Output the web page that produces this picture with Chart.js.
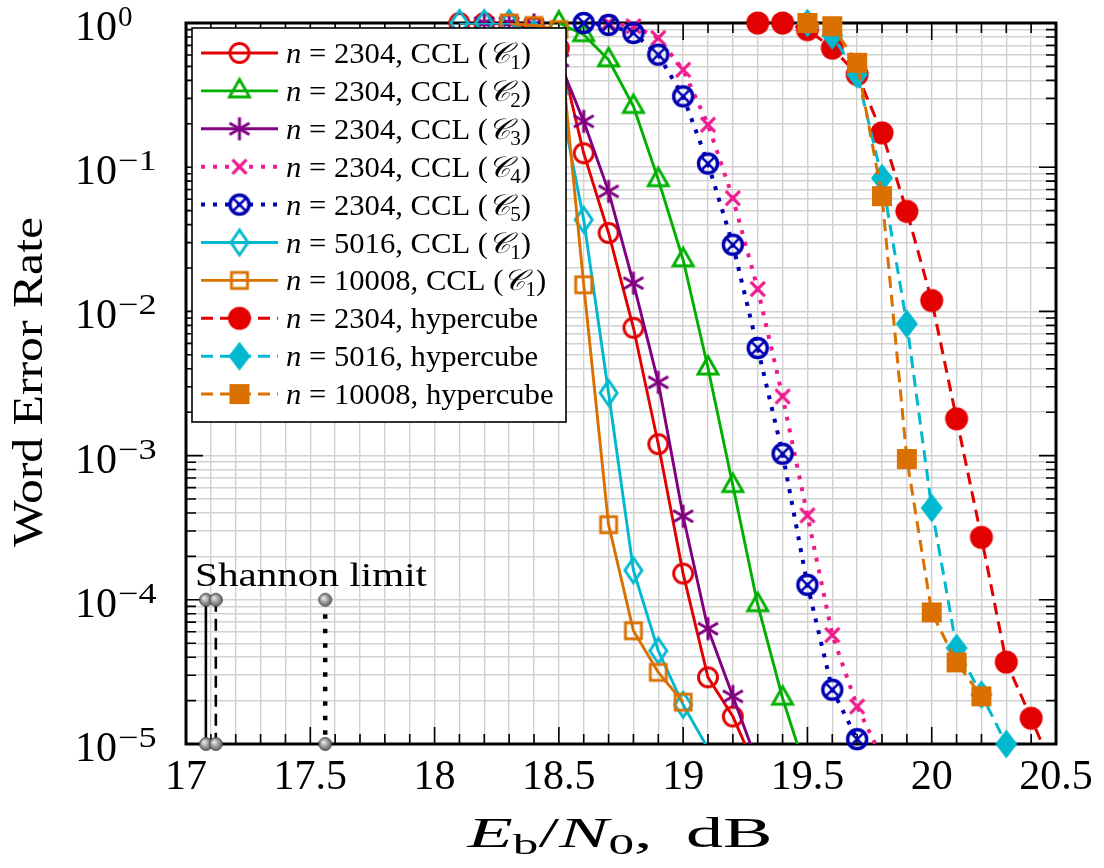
<!DOCTYPE html>
<html>
<head>
<meta charset="utf-8">
<script src="https://cdn.jsdelivr.net/npm/chart.js@4"></script>
<style>
  html, body { margin: 0; padding: 0; background: #fff; }
  canvas { display: block; }
</style>
</head>
<body>
<canvas id="werChart" width="1104" height="868"></canvas>
<script>
// values: Eb/N0 in dB, word error rate
const snrCcl1N2304 = [18.1, 18.2, 18.3, 18.4, 18.5, 18.6, 18.7, 18.8, 18.9, 19.0, 19.1, 19.2, 19.3];
const werCcl1N2304 = [1, 1, 0.98, 0.93, 0.67, 0.125, 0.035, 0.0077, 0.0012, 1.52e-4, 2.9e-5, 1.55e-5, 6.3e-6];

const snrCcl2N2304 = [18.5, 18.6, 18.7, 18.8, 18.9, 19.0, 19.1, 19.2, 19.3, 19.4, 19.5];
const werCcl2N2304 = [1, 0.83, 0.556, 0.264, 0.082, 0.0228, 0.00405, 6.2e-4, 9.25e-5, 2.08e-5, 6e-6];

const snrCcl3N2304 = [18.2, 18.3, 18.4, 18.5, 18.6, 18.7, 18.8, 18.9, 19.0, 19.1, 19.2, 19.3];
const werCcl3N2304 = [1, 1, 0.97, 0.55, 0.208, 0.068, 0.0157, 0.00322, 3.8e-4, 6.3e-5, 2.14e-5, 7.3e-6];

const snrCcl4N2304 = [18.7, 18.8, 18.9, 19.0, 19.1, 19.2, 19.3, 19.4, 19.5, 19.6, 19.7, 19.8];
const werCcl4N2304 = [1, 0.95, 0.787, 0.474, 0.197, 0.061, 0.0143, 0.00257, 3.85e-4, 5.7e-5, 1.82e-5, 8e-6];

const snrCcl5N2304 = [18.6, 18.7, 18.8, 18.9, 19.0, 19.1, 19.2, 19.3, 19.4, 19.5, 19.6, 19.7];
const werCcl5N2304 = [1, 0.97, 0.853, 0.603, 0.31, 0.106, 0.029, 0.00557, 0.00103, 1.27e-4, 2.38e-5, 1.08e-5];

const snrCcl1N5016 = [18.1, 18.2, 18.3, 18.4, 18.5, 18.6, 18.7, 18.8, 18.9, 19.0, 19.1];
const werCcl1N5016 = [1, 1, 1, 0.85, 0.33, 0.0432, 0.00272, 1.6e-4, 4.43e-5, 1.87e-5, 9.3e-6];

const snrCcl1N10008 = [18.3, 18.4, 18.5, 18.6, 18.7, 18.8, 18.9, 19.0];
const werCcl1N10008 = [1, 0.96, 0.9, 0.0153, 3.32e-4, 6.1e-5, 3.14e-5, 1.95e-5];

const snrCubeN2304 = [19.3, 19.4, 19.5, 19.6, 19.7, 19.8, 19.9, 20.0, 20.1, 20.2, 20.3, 20.4, 20.5];
const werCubeN2304 = [1, 1, 0.9, 0.67, 0.44, 0.173, 0.0494, 0.0119, 0.0018, 2.71e-4, 3.7e-5, 1.51e-5, 6e-6];

const snrCubeN5016 = [19.5, 19.6, 19.7, 19.8, 19.9, 20.0, 20.1, 20.2, 20.3];
const werCubeN5016 = [1, 0.82, 0.44, 0.084, 0.0082, 4.33e-4, 4.63e-5, 2.2e-5, 1.0e-5];

const snrCubeN10008 = [19.5, 19.6, 19.7, 19.8, 19.9, 20.0, 20.1, 20.2];
const werCubeN10008 = [1, 0.95, 0.53, 0.063, 9.47e-4, 8.18e-5, 3.68e-5, 2.14e-5];

// Shannon limits (vertical markers between 1e-4 and 1e-5)
const shannonSnr = [17.08, 17.12, 17.56];
const shannonWer = [1e-4, 1e-5];

const legendN = ["2304", "2304", "2304", "2304", "2304", "5016", "10008", "2304", "5016", "10008"];
const legendCode = ["1", "2", "3", "4", "5", "1", "1", "hypercube", "hypercube", "hypercube"];

const xTickLabels = ["17", "17.5", "18", "18.5", "19", "19.5", "20", "20.5"];
const yTickExponents = [0, -1, -2, -3, -4, -5];

const X_MIN = 17, X_MAX = 20.5, Y_MIN = 1e-5, Y_MAX = 1;

const RED = "#e30000", GREEN = "#00b000", PURPLE = "#800080", PINK = "#ee1b8d",
      BLUE = "#0000b3", CYAN = "#00b8cf", ORANGE = "#d97000";
const SERIF = "'Liberation Serif', 'DejaVu Serif', serif";
const font = (size, style) => (style ? style + " " : "") + size + "px " + SERIF;

const SOLID = [], DOTTED = [4, 8], DASHED = [12, 7];
const widthFor = dash => dash === DOTTED ? 4 : (dash === DASHED ? 3 : 2.9);

function makeMarker(kind, color) {
  const c = document.createElement("canvas");
  c.width = 36; c.height = 36;
  const g = c.getContext("2d");
  g.translate(18, 18);
  g.strokeStyle = color;
  g.fillStyle = color;
  g.lineWidth = 2.9;
  const poly = (pts, fill) => {
    g.beginPath();
    pts.forEach((p, i) => (i ? g.lineTo(p[0], p[1]) : g.moveTo(p[0], p[1])));
    g.closePath();
    fill ? g.fill() : g.stroke();
  };
  const seg = (a, r) => {
    const dx = Math.cos(a) * r, dy = Math.sin(a) * r;
    g.beginPath(); g.moveTo(-dx, -dy); g.lineTo(dx, dy); g.stroke();
  };
  switch (kind) {
    case "circle":
      g.beginPath(); g.arc(0, 0, 9.5, 0, 2 * Math.PI); g.stroke(); break;
    case "triangle":
      poly([[0, -11.5], [10, 6], [-10, 6]]); break;
    case "asterisk":
      g.lineWidth = 3;
      [90, 30, 150].forEach(d => seg(d * Math.PI / 180, 11.5)); break;
    case "cross":
      g.lineWidth = 3.2;
      [45, 135].forEach(d => seg(d * Math.PI / 180, 10)); break;
    case "otimes":
      g.lineWidth = 3.4;
      g.beginPath(); g.arc(0, 0, 9.5, 0, 2 * Math.PI); g.stroke();
      g.lineWidth = 2.6;
      [45, 135].forEach(d => seg(d * Math.PI / 180, 8)); break;
    case "diamond":
      poly([[0, -12.5], [8.5, 0], [0, 12.5], [-8.5, 0]]); break;
    case "square":
      g.strokeRect(-8, -8, 16, 16); break;
    case "dot":
      g.beginPath(); g.arc(0, 0, 11.5, 0, 2 * Math.PI); g.fill(); break;
    case "fdiamond":
      poly([[0, -14.5], [11, 0], [0, 14.5], [-11, 0]], true); break;
    case "fsquare":
      g.fillRect(-10, -10, 20, 20); break;
    case "ball": {
      const gr = g.createRadialGradient(-2, -2, 0.5, 0, 0, 7);
      gr.addColorStop(0, "#e8e8e8");
      gr.addColorStop(1, "#555");
      g.fillStyle = gr;
      g.beginPath(); g.arc(0, 0, 6.5, 0, 2 * Math.PI); g.fill();
      g.lineWidth = 0.8; g.strokeStyle = "#444"; g.stroke();
      break;
    }
  }
  return c;
}

const seriesList = [
  { x: snrCcl1N2304, y: werCcl1N2304, color: RED, marker: "circle", dash: SOLID },
  { x: snrCcl2N2304, y: werCcl2N2304, color: GREEN, marker: "triangle", dash: SOLID },
  { x: snrCcl3N2304, y: werCcl3N2304, color: PURPLE, marker: "asterisk", dash: SOLID },
  { x: snrCcl4N2304, y: werCcl4N2304, color: PINK, marker: "cross", dash: DOTTED },
  { x: snrCcl5N2304, y: werCcl5N2304, color: BLUE, marker: "otimes", dash: DOTTED },
  { x: snrCcl1N5016, y: werCcl1N5016, color: CYAN, marker: "diamond", dash: SOLID },
  { x: snrCcl1N10008, y: werCcl1N10008, color: ORANGE, marker: "square", dash: SOLID },
  { x: snrCubeN2304, y: werCubeN2304, color: RED, marker: "dot", dash: DASHED },
  { x: snrCubeN5016, y: werCubeN5016, color: CYAN, marker: "fdiamond", dash: DASHED },
  { x: snrCubeN10008, y: werCubeN10008, color: ORANGE, marker: "fsquare", dash: DASHED }
];
seriesList.forEach(s => { s.icon = makeMarker(s.marker, s.color); });
const ballIcon = makeMarker("ball", "#777");

const datasets = [];
let drawIdx = 0;
[SOLID, DASHED, [4.5, 10]].forEach((dash, i) => {
  datasets.push({
    data: shannonWer.map(w => ({ x: shannonSnr[i], y: w })),
    showLine: true, borderColor: "#000", borderWidth: i === 2 ? 4.5 : 2.6, borderDash: dash,
    borderCapStyle: "butt", pointStyle: ballIcon, pointRadius: 6, clip: false, order: -(drawIdx++)
  });
});
seriesList.forEach(s => {
  const pts = s.x.map((v, i) => ({ x: v, y: s.y[i] }));
  datasets.push({
    data: pts, showLine: true, borderColor: s.color, borderDash: s.dash,
    borderWidth: widthFor(s.dash),
    borderCapStyle: "butt", tension: 0, pointRadius: 0, clip: 0, order: -(drawIdx++)
  });
  datasets.push({
    data: pts.filter(p => p.y >= Y_MIN * 0.999),
    showLine: false, pointStyle: s.icon, pointRadius: 10, clip: false, order: -(drawIdx++)
  });
});

const xGridValues = [];
for (let i = 0; i <= 35; i++) xGridValues.push(+(X_MIN + i * 0.1).toFixed(1));
const yGridValues = [];
for (let e = -5; e < 0; e++) for (let m = 1; m <= 9; m++) yGridValues.push(+(m * Math.pow(10, e)).toPrecision(3));
yGridValues.push(1);

const isMajorX = v => Math.abs(v * 2 - Math.round(v * 2)) < 1e-6;
const isMajorY = v => Math.abs(Math.log10(v) - Math.round(Math.log10(v))) < 1e-6;

function partsWidth(ctx, parts) {
  let w = 0;
  parts.forEach(p => { ctx.font = p[1]; w += ctx.measureText(p[0]).width; });
  return w;
}
function drawParts(ctx, parts, x, y, sx) {
  ctx.save();
  ctx.translate(x, y);
  ctx.scale(sx, 1);
  let cx = 0;
  parts.forEach(p => {
    ctx.font = p[1];
    ctx.fillText(p[0], cx, p[2] || 0);
    cx += ctx.measureText(p[0]).width;
  });
  ctx.restore();
}

const frameAndText = {
  id: "frameAndText",
  beforeDatasetsDraw(chart) {
    const { ctx, chartArea: a, scales: { x, y } } = chart;
    ctx.save();
    ctx.strokeStyle = "#000";
    ctx.lineWidth = 1.6;
    ctx.beginPath();
    xGridValues.forEach(v => {
      const px = x.getPixelForValue(v), len = isMajorX(v) ? 17 : 10;
      ctx.moveTo(px, a.bottom); ctx.lineTo(px, a.bottom - len);
      ctx.moveTo(px, a.top); ctx.lineTo(px, a.top + len);
    });
    yGridValues.forEach(v => {
      const py = y.getPixelForValue(v), len = isMajorY(v) ? 17 : 10;
      ctx.moveTo(a.left, py); ctx.lineTo(a.left + len, py);
      ctx.moveTo(a.right, py); ctx.lineTo(a.right - len, py);
    });
    ctx.stroke();
    ctx.lineWidth = 3;
    ctx.strokeRect(a.left, a.top, a.right - a.left, a.bottom - a.top);
    ctx.restore();
  },
  afterDraw(chart) {
    const { ctx, chartArea: a, scales: { x, y } } = chart;
    ctx.save();
    ctx.fillStyle = "#000";
    ctx.textBaseline = "alphabetic";

    // x tick labels
    ctx.textAlign = "center";
    ctx.font = font(42);
    xTickLabels.forEach(t => ctx.fillText(t, x.getPixelForValue(parseFloat(t)), 789));

    // y tick labels 10^k
    ctx.textAlign = "left";
    yTickExponents.forEach(e => {
      const py = y.getPixelForValue(Math.pow(10, e));
      ctx.font = font(42);
      ctx.fillText("10", 75, py + 17);
      const w = ctx.measureText("10").width;
      const sup = e === 0 ? [["0", font(29)]] : [["\u2212", font(29)], [String(-e), font(29)]];
      drawParts(ctx, sup, 75 + w + 1, py + 3, e === 0 ? 1 : 1.25);
    });

    // axis titles
    const yTitle = [["Word Error Rate", font(42)]];
    const yw = partsWidth(ctx, yTitle);
    ctx.save();
    ctx.translate(42, 382);
    ctx.rotate(-Math.PI / 2);
    drawParts(ctx, yTitle, -330 / 2, 0, 330 / yw);
    ctx.restore();

    const xTitle = [
      ["E", font(42, "italic")], ["b", font(29), 7], ["/", font(42)],
      ["N", font(42, "italic")], ["0", font(29), 7], [", \u2009dB", font(42)]
    ];
    const xw = partsWidth(ctx, xTitle);
    drawParts(ctx, xTitle, 620 - 305 / 2, 847, 305 / xw);

    // Shannon limit label
    const sh = [["Shannon limit", font(33)]];
    drawParts(ctx, sh, 195, 586, 232 / partsWidth(ctx, sh));

    // legend
    const lx = a.left + 6, ly = a.top + 5, lw = 374, lh = 394;
    ctx.fillStyle = "#fff";
    ctx.fillRect(lx, ly, lw, lh);
    ctx.strokeStyle = "#000";
    ctx.lineWidth = 1.6;
    ctx.strokeRect(lx, ly, lw, lh);
    const rowParts = i => {
      const head = [["n", font(29, "italic")], [" = " + legendN[i] + ", ", font(29)]];
      if (legendCode[i] === "hypercube") return head.concat([["hypercube", font(29)]]);
      return head.concat([
        ["CCL (", font(29)], ["\u{1D49E}", "italic 29px 'DejaVu Serif', serif"],
        [legendCode[i], font(20), 6], [")", font(29)]
      ]);
    };
    const sx = 245 / partsWidth(ctx, rowParts(0));
    seriesList.forEach((s, i) => {
      const cy = 53 + i * 37.9;
      ctx.save();
      ctx.strokeStyle = s.color;
      ctx.lineWidth = widthFor(s.dash);
      ctx.setLineDash(s.dash);
      ctx.beginPath(); ctx.moveTo(201, cy); ctx.lineTo(278, cy); ctx.stroke();
      ctx.restore();
      ctx.drawImage(s.icon, 239.5 - s.icon.width / 2, cy - s.icon.height / 2);
      ctx.fillStyle = "#000";
      drawParts(ctx, rowParts(i), 286, cy + 10, sx);
    });
    ctx.restore();
  }
};

new Chart(document.getElementById("werChart"), {
  type: "scatter",
  data: { datasets },
  options: {
    responsive: false,
    animation: false,
    events: [],
    layout: { padding: { left: 0, right: 48, top: 23, bottom: 0 } },
    scales: {
      x: {
        type: "linear", min: X_MIN, max: X_MAX,
        afterFit: s => { s.height = 124; },
        afterBuildTicks: s => { s.ticks = xGridValues.map(v => ({ value: v })); },
        ticks: { display: false },
        grid: { color: "#d2d2d2", lineWidth: 1.4, drawTicks: false },
        border: { display: false }
      },
      y: {
        type: "logarithmic", min: Y_MIN, max: Y_MAX,
        afterFit: s => { s.width = 186; },
        afterBuildTicks: s => { s.ticks = yGridValues.map(v => ({ value: v })); },
        ticks: { display: false },
        grid: { color: "#d2d2d2", lineWidth: 1.4, drawTicks: false },
        border: { display: false }
      }
    },
    plugins: { legend: { display: false }, tooltip: { enabled: false } }
  },
  plugins: [frameAndText]
});
</script>
</body>
</html>
